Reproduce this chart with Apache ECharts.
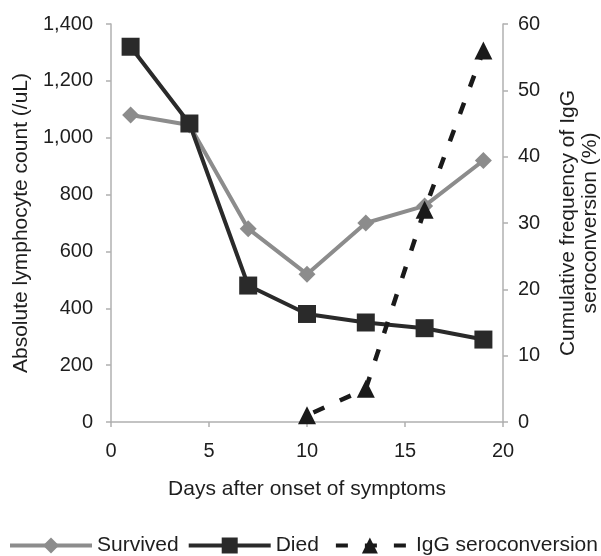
<!DOCTYPE html>
<html><head><meta charset="utf-8">
<script src="https://cdn.jsdelivr.net/npm/echarts@6/dist/echarts.min.js"></script>
<style>html,body{margin:0;padding:0;background:#fff;overflow:hidden}#c{width:601px;height:556px}</style>
</head><body><div id="c"></div>
<script>
const days = [1, 4, 7, 10, 13, 16, 19];
const survived = [1080, 1045, 680, 520, 700, 760, 920];
const died = [1320, 1050, 480, 380, 350, 330, 290];
const iggDays = [10, 13, 16, 19];
const igg = [1, 5, 32, 56];
const leftTicksMax = 1400, rightTicksMax = 60, xMax = 20;

const font = 'Liberation Sans, Arial, sans-serif';
const txt = '#1e1e1e';
const axisCol = '#b0b0b0';
const chart = echarts.init(document.getElementById('c'), null, {renderer: 'canvas'});
chart.setOption({
  animation: false,
  textStyle: {fontFamily: font},
  grid: {left: 111, right: 98, top: 24, bottom: 134, containLabel: false, outerBoundsMode: 'none'},
  legend: {
    top: 535, left: 8, width: 601, padding: 0, itemWidth: 82, itemHeight: 20, itemGap: 8,
    textStyle: {fontSize: 21, color: txt, fontFamily: font},
    lineStyle: {width: 4},
    data: ['Survived', 'Died', 'IgG seroconversion']
  },
  xAxis: {
    type: 'value', min: 0, max: xMax, interval: 5,
    name: 'Days after onset of symptoms', nameLocation: 'middle', nameGap: 57,
    nameTextStyle: {fontSize: 21, color: txt},
    axisLine: {show: true, lineStyle: {color: axisCol, width: 1.5}},
    axisTick: {show: true, length: 5, lineStyle: {color: axisCol, width: 1.5}},
    axisLabel: {fontSize: 20, color: txt, margin: 19},
    splitLine: {show: false}
  },
  yAxis: [{
    type: 'value', min: 0, max: leftTicksMax, interval: 200,
    name: 'Absolute lymphocyte count (/uL)', nameLocation: 'middle', nameGap: 79,
    nameTextStyle: {fontSize: 21, color: txt},
    axisLine: {show: true, lineStyle: {color: axisCol, width: 1.5}},
    axisTick: {show: true, length: 5, lineStyle: {color: axisCol, width: 1.5}},
    axisLabel: {fontSize: 20, color: txt, margin: 18,
      formatter: v => v.toLocaleString('en-US')},
    splitLine: {show: false}
  }, {
    type: 'value', min: 0, max: rightTicksMax, interval: 10, position: 'right',
    name: 'Cumulative frequency of IgG\nseroconversion (%)', nameLocation: 'middle', nameGap: 54,
    nameRotate: 90,
    nameTextStyle: {fontSize: 21, color: txt, lineHeight: 22},
    axisLine: {show: true, lineStyle: {color: axisCol, width: 1.5}},
    axisTick: {show: true, length: 5, lineStyle: {color: axisCol, width: 1.5}},
    axisLabel: {fontSize: 20, color: txt, margin: 15},
    splitLine: {show: false}
  }],
  series: [{
    name: 'Survived', type: 'line', yAxisIndex: 0,
    data: days.map((d, i) => [d, survived[i]]),
    symbol: 'diamond', symbolSize: 17,
    lineStyle: {color: '#8c8c8c', width: 4},
    itemStyle: {color: '#8c8c8c'}
  }, {
    name: 'Died', type: 'line', yAxisIndex: 0,
    data: days.map((d, i) => [d, died[i]]),
    symbol: 'rect', symbolSize: 18,
    lineStyle: {color: '#2a2a2a', width: 4},
    itemStyle: {color: '#2a2a2a'}
  }, {
    name: 'IgG seroconversion', type: 'line', yAxisIndex: 1,
    data: iggDays.map((d, i) => [d, igg[i]]),
    symbol: 'triangle', symbolSize: 18,
    lineStyle: {color: '#1a1a1a', width: 4.5, type: [12, 17], dashOffset: -7},
    itemStyle: {color: '#1a1a1a'}
  }]
});
</script></body></html>
